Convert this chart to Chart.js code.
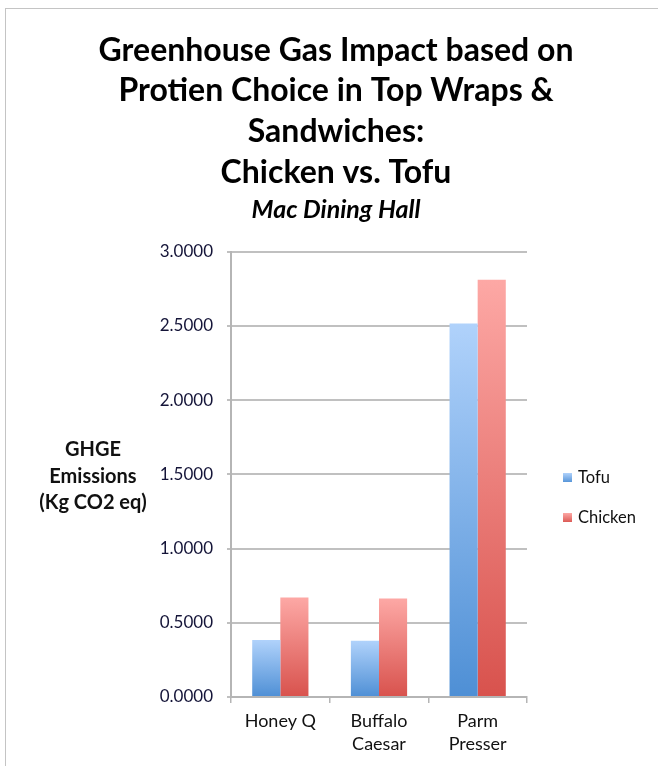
<!DOCTYPE html>
<html>
<head>
<meta charset="utf-8">
<script src="https://cdn.jsdelivr.net/npm/chart.js@4"></script>
<style>
  html, body { margin: 0; padding: 0; background: #fff; }
  #marco {
    position: absolute; left: 5px; top: 8px;
    width: 652px; height: 757px;
    border-left: 1px solid #c4c4c4; border-top: 1px solid #c4c4c4;
  }
  #grafico { display: block; }
</style>
</head>
<body>
<div id="marco"><canvas id="grafico" width="652" height="757"></canvas></div>
<script>
const categorias = [['Honey Q'], ['Buffalo', 'Caesar'], ['Parm', 'Presser']];
const tofu = [0.384, 0.378, 2.515];
const pollo = [0.670, 0.664, 2.810];
const marcasY = [0, 0.5, 1.0, 1.5, 2.0, 2.5, 3.0];
const tituloLineas = ['Greenhouse Gas Impact based on', 'Protien Choice in Top Wraps &', 'Sandwiches:', 'Chicken vs. Tofu'];
const subtitulo = 'Mac Dining Hall';
const tituloEjeY = ['GHGE', 'Emissions', '(Kg CO2 eq)'];

const fuente = 'Lato, "Open Sans", sans-serif';

// degradado por barra: claro arriba, oscuro abajo
function degradado(claro, oscuro) {
    return function(context) {
        const chart = context.chart;
        const y = chart.scales.y;
        if (!y || context.raw === undefined) return oscuro;
        const arriba = y.getPixelForValue(context.raw);
        const abajo = y.getPixelForValue(0);
        if (!isFinite(arriba) || !isFinite(abajo) || arriba === abajo) return oscuro;
        const g = chart.ctx.createLinearGradient(0, arriba, 0, abajo);
        g.addColorStop(0, claro);
        g.addColorStop(1, oscuro);
        return g;
    };
}

const colores = {
    tofu: ['#b0d2fb', '#4e8fd5'],
    pollo: ['#fda8a5', '#d8524d']
};

// titulo del eje Y horizontal y leyenda a la derecha
const extras = {
    id: 'extras',
    afterDraw(chart) {
        const ctx = chart.ctx;
        ctx.save();
        ctx.fillStyle = '#111';
        ctx.font = 'bold 20px ' + fuente;
        ctx.textAlign = 'center';
        ctx.textBaseline = 'middle';
        tituloEjeY.forEach(function(linea, i) {
            ctx.fillText(linea, 87, 441 + i * 26.5);
        });

        ctx.font = '16.5px ' + fuente;
        ctx.textAlign = 'left';
        chart.data.datasets.forEach(function(ds, i) {
            const yc = 469 + i * 40;
            const par = i === 0 ? colores.tofu : colores.pollo;
            const g = ctx.createLinearGradient(0, yc - 5, 0, yc + 5);
            g.addColorStop(0, par[0]);
            g.addColorStop(1, par[1]);
            ctx.fillStyle = g;
            ctx.fillRect(557, yc - 5, 9, 9);
            ctx.fillStyle = '#111';
            ctx.fillText(ds.label, 572, yc);
        });
        ctx.restore();
    }
};

new Chart(document.getElementById('grafico').getContext('2d'), {
    type: 'bar',
    data: {
        labels: categorias,
        datasets: [{
            label: 'Tofu',
            data: tofu,
            backgroundColor: degradado(colores.tofu[0], colores.tofu[1])
        }, {
            label: 'Chicken',
            data: pollo,
            backgroundColor: degradado(colores.pollo[0], colores.pollo[1])
        }]
    },
    options: {
        responsive: false,
        animation: false,
        layout: { padding: { left: 8, right: 0, top: 0, bottom: 6 } },
        datasets: {
            bar: { categoryPercentage: 0.57, barPercentage: 1.0 }
        },
        plugins: {
            legend: { display: false },
            tooltip: { enabled: false },
            title: {
                display: true,
                text: tituloLineas,
                color: '#000',
                font: { family: fuente, size: 32, weight: 'bold', lineHeight: 1.27 },
                padding: { top: 21, bottom: 0 }
            },
            subtitle: {
                display: true,
                text: subtitulo,
                color: '#000',
                font: { family: fuente, size: 25, weight: 'bold', style: 'italic', lineHeight: 1.2 },
                padding: { top: 2, bottom: 27 }
            }
        },
        scales: {
            x: {
                grid: {
                    display: true,
                    drawOnChartArea: false,
                    drawTicks: true,
                    tickLength: 6,
                    color: '#b5b5b5',
                    lineWidth: 1.5
                },
                border: { color: '#b5b5b5', width: 2 },
                ticks: {
                    color: '#111',
                    font: { family: fuente, size: 18, lineHeight: 1.28 },
                    padding: 7,
                    maxRotation: 0
                },
                afterFit: function(scale) { scale.height = 63; }
            },
            y: {
                min: 0,
                max: 3,
                afterBuildTicks: function(scale) {
                    scale.ticks = marcasY.map(function(v) { return { value: v }; });
                },
                grid: {
                    color: '#c0c0c0',
                    lineWidth: 2,
                    tickLength: 4
                },
                border: { color: '#b5b5b5', width: 2 },
                ticks: {
                    color: '#141438',
                    font: { family: fuente, size: 17 },
                    padding: 14,
                    callback: function(v) { return Number(v).toFixed(4); }
                },
                afterFit: function(scale) { scale.width = 217; }
            },
            // eje vacio a la derecha: reserva el hueco de la leyenda
            derecha: {
                type: 'linear',
                position: 'right',
                display: true,
                grid: { display: false, drawTicks: false },
                border: { display: false },
                ticks: { display: false },
                afterFit: function(scale) { scale.width = 131; }
            }
        }
    },
    plugins: [extras]
});
</script>
</body>
</html>
